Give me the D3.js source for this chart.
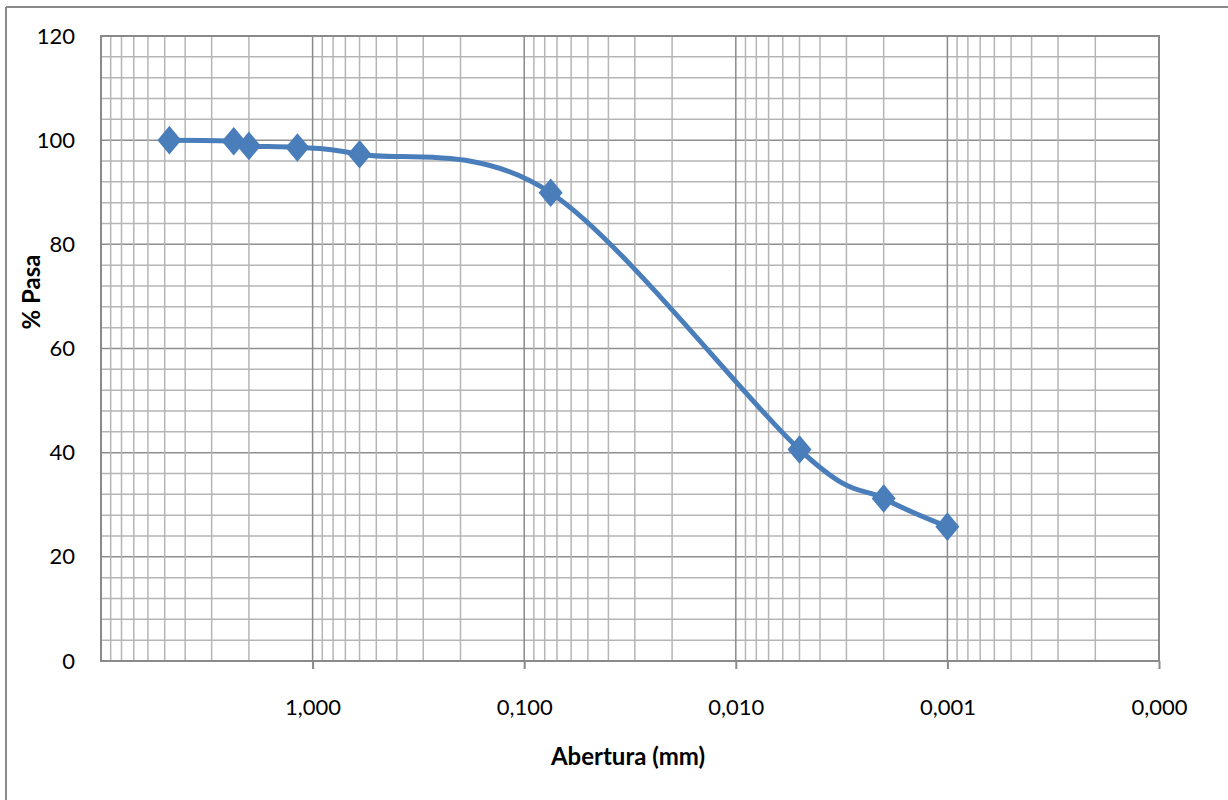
<html>
<script src='https://d3js.org/d3.v7.min.js'></script>
<style>
body { margin: 0; background: #fff; }
text { font-family: Lato, 'Open Sans', sans-serif; fill: #000; }
</style>
<body onload='init()'>
<svg width=1228 height=800></svg>
<script>
// sieve openings (mm) and % passing
const aberturas = [4.75, 2.36, 2.0, 1.18, 0.6, 0.075, 0.005, 0.002, 0.001];
const pasa = [100, 99.8, 98.9, 98.6, 97.3, 89.9, 40.6, 31.2, 25.8];
const xTickValues = [1, 0.1, 0.01, 0.001, 0.0001];
const yTickValues = [0, 20, 40, 60, 80, 100, 120];

function init() {

var left = 101, right = 1159, top = 36, bottom = 661;
var svg = d3.select('svg');

var x = d3.scaleLog().domain([10, 0.0001]).range([left, right]);
var y = d3.scaleLinear().domain([0, 120]).range([bottom, top]);

// outer chart frame (only top + left edges show)
svg.append('line').attr('x1', 6).attr('x2', 1228).attr('y1', 7).attr('y2', 7)
   .attr('stroke', '#8a8a8a').attr('stroke-width', 2);
svg.append('line').attr('x1', 6).attr('x2', 6).attr('y1', 7).attr('y2', 800)
   .attr('stroke', '#8a8a8a').attr('stroke-width', 2);

var grid = svg.append('g');

// horizontal grid, minor every 4, major every 20
grid.selectAll('.hmin')
   .data(d3.range(0, 121, 4))
   .enter().append('line')
   .attr('x1', left).attr('x2', right)
   .attr('y1', d => y(d)).attr('y2', d => y(d))
   .attr('stroke', d => d % 20 == 0 ? '#8e8e8e' : '#b5b5b5')
   .attr('stroke-width', 1.5);

// vertical grid from log ticks
var vt = x.ticks();
grid.selectAll('.vmin')
   .data(vt)
   .enter().append('line')
   .attr('x1', d => x(d)).attr('x2', d => x(d))
   .attr('y1', top).attr('y2', bottom)
   .attr('stroke', d => xTickValues.indexOf(d) >= 0 ? '#8a8a8a' : '#b5b5b5')
   .attr('stroke-width', 1.5);

// plot border
grid.append('rect')
   .attr('x', left).attr('y', top)
   .attr('width', right - left).attr('height', bottom - top)
   .attr('fill', 'none').attr('stroke', '#8a8a8a').attr('stroke-width', 2);

// x axis ticks + labels
var xa = d3.axisBottom(x)
   .tickValues(xTickValues)
   .tickSize(8)
   .tickPadding(30)
   .tickFormat(d => d3.format('.3f')(d).replace('.', ','));
var gx = svg.append('g')
   .attr('transform', 'translate(0,' + bottom + ')')
   .call(xa);
gx.select('.domain').remove();
gx.selectAll('line').attr('stroke', '#8a8a8a').attr('stroke-width', 2);
gx.selectAll('text').style('font-size', '22px').attr('font-family', 'Lato');

// y axis labels
var ya = d3.axisLeft(y).tickValues(yTickValues).tickSize(0).tickPadding(26);
var gy = svg.append('g')
   .attr('transform', 'translate(' + left + ',0)')
   .call(ya);
gy.select('.domain').remove();
gy.selectAll('text').style('font-size', '22px').attr('font-family', 'Lato');

// curve
var pts = aberturas.map((a, i) => [x(a), y(pasa[i])]);
svg.append('path')
   .attr('d', d3.line().curve(d3.curveCardinal)(pts))
   .attr('fill', 'none')
   .attr('stroke', '#4a7ebb')
   .attr('stroke-width', 5);

// diamond markers
var sym = d3.symbol().type(d3.symbolDiamond).size(190);
svg.append('g')
   .selectAll('path')
   .data(pts)
   .enter().append('path')
   .attr('d', sym)
   .attr('transform', d => 'translate(' + d[0] + ',' + d[1] + ') scale(1.45,1)')
   .attr('fill', '#4a7ebb')
   .attr('stroke', '#4a7ebb')
   .attr('stroke-width', 1.5);

// axis titles
svg.append('text')
   .text('Abertura (mm)')
   .attr('x', 628).attr('y', 765)
   .attr('text-anchor', 'middle')
   .style('font-size', '24px').style('font-weight', 'bold');

svg.append('text')
   .text('% Pasa')
   .attr('x', 0).attr('y', 0)
   .attr('text-anchor', 'middle')
   .attr('transform', 'translate(40,292) rotate(-90)')
   .style('font-size', '24px').style('font-weight', 'bold');

}
</script>
</body>
</html>
